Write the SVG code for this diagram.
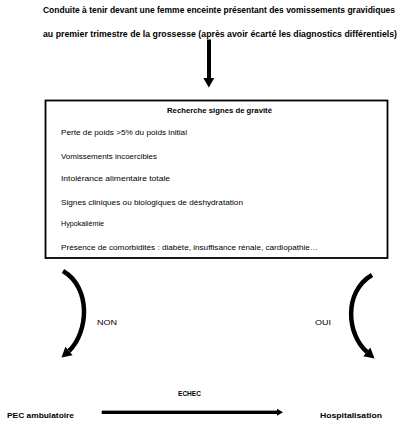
<svg xmlns="http://www.w3.org/2000/svg" width="403" height="429" viewBox="0 0 403 429">
<style>
text{font-family:"Liberation Sans",Arial,sans-serif;fill:#000}
.b{font-weight:bold}
.t{font-size:8.5px}
.s{font-size:8px}
.c{fill:none;stroke:#000;stroke-width:4.5;stroke-linecap:butt}
</style>
<rect width="403" height="429" fill="#fff"/>
<g id="title">
<text class="b t" x="43" y="13" textLength="352" lengthAdjust="spacingAndGlyphs">Conduite à tenir devant une femme enceinte présentant des vomissements gravidiques</text>
<text class="b t" x="43" y="36.5" textLength="354" lengthAdjust="spacingAndGlyphs">au premier trimestre de la grossesse (après avoir écarté les diagnostics différentiels)</text>
</g>
<g id="criteria">
<rect x="45.5" y="100.5" width="342" height="157.5" fill="#fff" stroke="#000" stroke-width="1.8"/>
<text class="b s" x="167" y="113" textLength="105" lengthAdjust="spacingAndGlyphs">Recherche signes de gravité</text>
<text class="s" x="61" y="135" textLength="126" lengthAdjust="spacingAndGlyphs">Perte de poids &gt;5% du poids initial</text>
<text class="s" x="61" y="158.5" textLength="96" lengthAdjust="spacingAndGlyphs">Vomissements incoercibles</text>
<text class="s" x="61" y="181" textLength="109" lengthAdjust="spacingAndGlyphs">Intolérance alimentaire totale</text>
<text class="s" x="61" y="204.5" textLength="182" lengthAdjust="spacingAndGlyphs">Signes cliniques ou biologiques de déshydratation</text>
<text class="s" x="61" y="226" textLength="43" lengthAdjust="spacingAndGlyphs">Hypokaliémie</text>
<text class="s" x="61" y="249.5" textLength="257" lengthAdjust="spacingAndGlyphs">Présence de comorbidités : diabète, insuffisance rénale, cardiopathie…</text>
</g>
<g id="pec">
<text class="b s" x="7" y="418" textLength="67" lengthAdjust="spacingAndGlyphs">PEC ambulatoire</text>
</g>
<g id="hospitalisation">
<text class="b s" x="320" y="418" textLength="62" lengthAdjust="spacingAndGlyphs">Hospitalisation</text>
</g>
<g id="connectors">
<rect x="207" y="39.5" width="4" height="39"/>
<polygon points="203.3,78 214.3,78 208.8,87.5"/>
<path class="c" d="M63,271 C92,288 88,333 69,351"/>
<polygon points="72.6,355.2 65.4,346.8 61.5,357.5"/>
<text class="s" x="97" y="325" textLength="20" lengthAdjust="spacingAndGlyphs">NON</text>
<path class="c" d="M372,275 C343,292 347,335 367,352"/>
<polygon points="363.3,356.3 370.3,347.4 374.6,358.6"/>
<text class="s" x="315" y="325" textLength="16" lengthAdjust="spacingAndGlyphs">OUI</text>
<rect x="101.7" y="410.6" width="176" height="3.4"/>
<polygon points="277,408.8 283,412.3 277,415.8"/>
<text class="b s" x="178" y="395.5" textLength="23" lengthAdjust="spacingAndGlyphs">ECHEC</text>
</g>
</svg>
